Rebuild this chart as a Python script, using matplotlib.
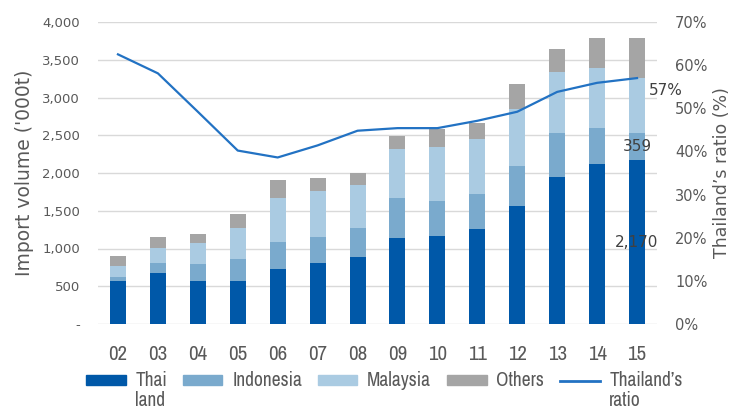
import numpy as np
import matplotlib
matplotlib.use("Agg")
import matplotlib.pyplot as plt
from matplotlib import font_manager as fm
from matplotlib.ticker import FuncFormatter, MultipleLocator
from matplotlib.patches import Patch
from matplotlib.lines import Line2D

years = ["02", "03", "04", "05", "06", "07", "08", "09", "10", "11", "12", "13", "14", "15"]

# import volume by origin, '000t
thai      = [570, 671, 574, 574, 724, 804, 892, 1135, 1170, 1254, 1567, 1951, 2119, 2170]
indonesia = [56, 133, 216, 287, 366, 344, 384, 530, 463, 468, 526, 575, 481, 359]
malaysia  = [144, 199, 287, 411, 575, 618, 570, 649, 716, 728, 750, 816, 795, 725]
others    = [130, 145, 119, 181, 242, 168, 150, 180, 229, 208, 332, 300, 397, 538]

# Thailand's share of the total, %
thai_ratio = [62.5, 58.1, 49.2, 40.2, 38.6, 41.4, 44.8, 45.4, 45.4, 47.1, 49.2, 53.8, 55.9, 57.0]

c_thai = "#0058A8"
c_indo = "#7AAACD"
c_malay = "#AACBE2"
c_other = "#A5A5A5"
c_line = "#2272C3"
txt_grey = "#595959"


# pick a narrow face for the category axis and legend if one is around
def narrow_font(size):
    cands = []
    for f in fm.fontManager.ttflist:
        fn = f.fname.lower()
        if "narrow" in fn and "bold" not in fn and "italic" not in fn:
            cands.append((0, f.fname))
        elif "condensed" in fn and "sans" in fn and "bold" not in fn and "oblique" not in fn:
            cands.append((1, f.fname))
    if cands:
        cands.sort()
        return fm.FontProperties(fname=cands[0][1], size=size)
    return fm.FontProperties(family="Liberation Sans", size=size * 0.9)


fig = plt.figure(figsize=(7.35, 4.12), dpi=100)
ax = fig.add_axes([98 / 735, 1 - 324 / 412, 559 / 735, 302 / 412])
ax2 = ax.twinx()

x = np.arange(len(years))
w = 0.4
b1 = np.array(thai)
b2 = b1 + np.array(indonesia)
b3 = b2 + np.array(malaysia)
ax.bar(x, thai, w, color=c_thai, zorder=2)
ax.bar(x, indonesia, w, bottom=b1, color=c_indo, zorder=2)
ax.bar(x, malaysia, w, bottom=b2, color=c_malay, zorder=2)
ax.bar(x, others, w, bottom=b3, color=c_other, zorder=2)

ax2.plot(x, thai_ratio, color=c_line, lw=1.6, solid_joinstyle="round")

# left axis
ax.set_xlim(-0.5, len(years) - 0.5)
ax.set_ylim(0, 4000)
ax.yaxis.set_major_locator(MultipleLocator(500))
ax.yaxis.set_major_formatter(FuncFormatter(lambda v, p: "-" if v == 0 else f"{v:,.0f}"))
ax.grid(axis="y", color="#D9D9D9", lw=1.0, zorder=0)
ax.set_axisbelow(True)
ax.set_xticks(x)
ax.set_xticklabels(years, fontproperties=narrow_font(15), color=txt_grey)
ax.tick_params(axis="x", length=0, pad=15)
ax.tick_params(axis="y", length=0, pad=13, labelsize=9.5, labelcolor=txt_grey)
ax.set_ylabel("Import volume ('000t)", fontsize=13.5, color=txt_grey, labelpad=6)

# right axis
ax2.set_ylim(0, 70)
ax2.yaxis.set_major_locator(MultipleLocator(10))
ax2.yaxis.set_major_formatter(FuncFormatter(lambda v, p: f"{v:.0f}%"))
ax2.tick_params(axis="y", length=0, pad=13, labelsize=10.5, labelcolor=txt_grey)
ax2.set_ylabel("Thailand\u2019s ratio (%)", fontsize=12.5, color=txt_grey, labelpad=4)

for a in (ax, ax2):
    for s in a.spines.values():
        s.set_visible(False)

# value labels on the last year
last = len(years) - 1
lab_col = "#404040"
ax.text(x[last], thai[last] / 2, f"{thai[last]:,}", ha="center", va="center",
        fontsize=11, color=lab_col, zorder=3)
ax.text(x[last], b1[last] + indonesia[last] / 2, f"{indonesia[last]:,}", ha="center",
        va="center", fontsize=11, color=lab_col, zorder=3)
ax2.annotate(f"{thai_ratio[last]:.0f}%", (x[last], thai_ratio[last]), xytext=(12, -12),
             textcoords="offset pixels", ha="left", va="center", fontsize=11, color=lab_col)

# legend
leg_font = narrow_font(14)
handles = [Patch(color=c_thai), Patch(color=c_indo), Patch(color=c_malay),
           Patch(color=c_other), Line2D([], [], color=c_line, lw=2)]
labels = ["Thai", "Indonesia", "Malaysia", "Others", "Thailand\u2019s"]
leg = fig.legend(handles, labels, ncol=5, loc="center left",
                 bbox_to_anchor=(76 / 735, 1 - 381 / 412), frameon=False,
                 prop=leg_font, labelcolor=txt_grey,
                 handlelength=2.05, handleheight=0.42, handletextpad=0.5,
                 columnspacing=0.8, borderpad=0)

# second lines of the two wrapped legend labels
fig.canvas.draw()
inv = fig.transFigure.inverted()
for t, extra in zip([leg.get_texts()[0], leg.get_texts()[4]], ["land", "ratio"]):
    bb = t.get_window_extent()
    x0, y0 = inv.transform((bb.x0, bb.y0))
    fig.text(x0, y0, extra, ha="left", va="top", fontproperties=leg_font, color=txt_grey)

fig.savefig("out.png", dpi=100)
